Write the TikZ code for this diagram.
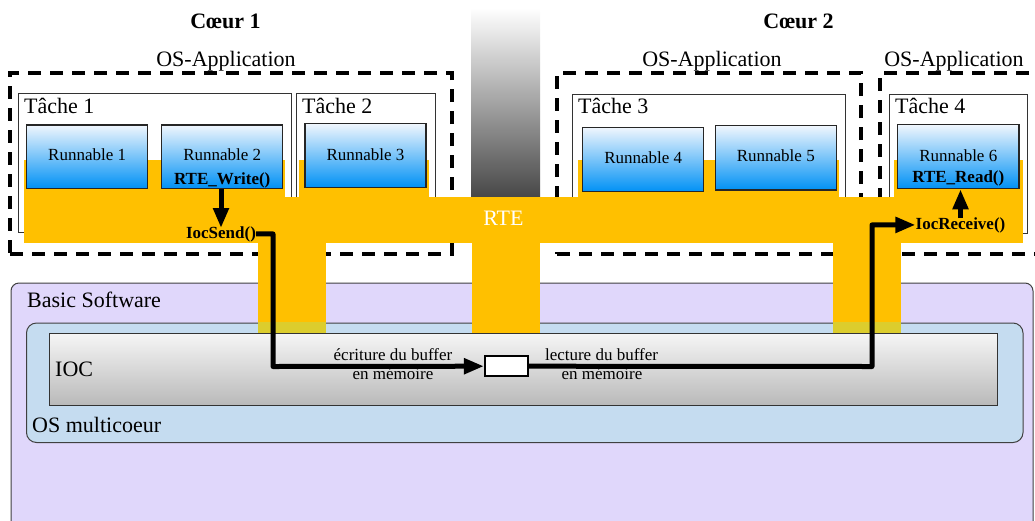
\documentclass[tikz,border=0pt]{standalone}
\usepackage{fontspec}
\setmainfont{Liberation Serif}
\usetikzlibrary{arrows.meta,fit}
\definecolor{orng}{RGB}{255,192,0}
\definecolor{stemolive}{RGB}{220,205,45}
\definecolor{lavender1}{RGB}{224,215,251}
\definecolor{osblue}{RGB}{197,220,240}
\definecolor{runtop}{RGB}{240,246,253}
\definecolor{runbot}{RGB}{0,145,245}
\definecolor{ioctop}{RGB}{246,246,246}
\definecolor{iocbot}{RGB}{185,185,185}
\newcommand\fbig{\fontsize{22}{26}\selectfont}
\newcommand\fsmall{\fontsize{17}{20}\selectfont}
\tikzset{
  dashbox/.style={draw=black, line width=3.5pt, dash pattern=on 13pt off 9pt, inner sep=0},
  tachebox/.style={draw=black!80, line width=1pt, fill=white, inner sep=0},
  runbox/.style={draw=black!85, line width=1.2pt, top color=runtop, bottom color=runbot, inner sep=0},
  bigtxt/.style={font=\fbig, inner sep=0},
  smalltxt/.style={font=\fsmall, inner sep=0},
  conn/.style={line width=5pt, line join=round},
  arrowline/.style={-{Triangle[length=20pt,width=15pt]}},
  orangefill/.style={fill=orng, draw=none, inner sep=0}
}
\begin{document}
\begin{tikzpicture}[x=1pt,y=-1pt]
\useasboundingbox (0,0) rectangle (1035,520);
\clip (0,0) rectangle (1035,520);

% Basic Software
\node[draw=black!75, line width=1pt, fill=lavender1, rounded corners=8pt, inner sep=0, fit={(11,283) (1033,540)}] (bsw) {};
\node[bigtxt, anchor=base west] (bswlbl) at (27,307) {Basic Software};

% gray pillar
\node[top color=white, bottom color=black!72, inner sep=0, fit={(471,8) (540,197)}] (pillar) {};

% titles
\node[bigtxt, font=\fbig\bfseries, anchor=base] (c1lbl) at (225.5,28) {Cœur 1};
\node[bigtxt, font=\fbig\bfseries, anchor=base] (c2lbl) at (798.5,28) {Cœur 2};
\node[bigtxt, anchor=base] (os1lbl) at (226,66) {OS-Application};
\node[bigtxt, anchor=base] (os2lbl) at (712,66) {OS-Application};
\node[bigtxt, anchor=base] (os3lbl) at (954,66) {OS-Application};

% dashed OS-Application boxes
\node[dashbox, fit={(10,73) (452,254)}] (osa1) {};
\node[dashbox, fit={(557,73) (861,254)}] (osa2) {};
\node[dashbox, fit={(880,73) (1062,254)}] (osa3) {};

% Tâche boxes
\node[tachebox, fit={(18.5,93.5) (291.5,232)}] (t1) {};
\node[tachebox, fit={(296,93.5) (435,232)}] (t2) {};
\node[tachebox, fit={(572,94.5) (845.5,232)}] (t3) {};
\node[tachebox, fit={(889,94.5) (1027.5,233)}] (t4) {};
\node[bigtxt, anchor=base west] (t1lbl) at (24,113) {Tâche 1};
\node[bigtxt, anchor=base west] (t2lbl) at (302,113) {Tâche 2};
\node[bigtxt, anchor=base west] (t3lbl) at (578,113) {Tâche 3};
\node[bigtxt, anchor=base west] (t4lbl) at (895,113) {Tâche 4};

% RTE orange shape
\fill[orng] (24,160) rectangle (285,198);
\fill[orng] (299,160) rectangle (429,198);
\fill[orng] (578,160) rectangle (839,198);
\fill[orng] (894,160) rectangle (1023,198);
\fill[orng] (258,242) rectangle (326,333);
\fill[orng] (472,242) rectangle (540,333);
\fill[orng] (833,242) rectangle (901,333);
\node[orangefill, fit={(24,197) (1023,243)}] (rte) {};
\node[bigtxt, text=white, anchor=base] (rtelbl) at (503.5,225) {RTE};

% Runnables
\node[runbox, fit={(26.7,125) (147.7,188.3)}] (r1) {};
\node[runbox, fit={(161.7,125) (282.7,188.3)}] (r2) {};
\node[runbox, fit={(305,123.7) (426,187.3)}] (r3) {};
\node[runbox, fit={(582.7,127.3) (703.7,191.7)}] (r4) {};
\node[runbox, fit={(715.3,125.7) (836.3,190)}] (r5) {};
\node[runbox, fit={(897.7,124.7) (1019,188.7)}] (r6) {};
\node[smalltxt, anchor=base] (r1lbl) at (87.2,160.7) {Runnable 1};
\node[smalltxt, anchor=base] (r2lbl) at (222.2,160.7) {Runnable 2};
\node[smalltxt, font=\fsmall\bfseries, anchor=base] (r2fn) at (222.2,184) {RTE\_Write()};
\node[smalltxt, anchor=base] (r3lbl) at (365.5,160) {Runnable 3};
\node[smalltxt, anchor=base] (r4lbl) at (643.2,163.3) {Runnable 4};
\node[smalltxt, anchor=base] (r5lbl) at (775.8,161.7) {Runnable 5};
\node[smalltxt, anchor=base] (r6lbl) at (958.3,161) {Runnable 6};
\node[smalltxt, font=\fsmall\bfseries, anchor=base] (r6fn) at (958.3,182) {RTE\_Read()};

% OS multicoeur
\node[draw=black!75, line width=1pt, fill=osblue, rounded corners=10pt, inner sep=0, fit={(26.5,323) (1023,442.5)}] (osm) {};
\fill[stemolive] (258,322.3) rectangle (326,333);
\fill[stemolive] (833,322.3) rectangle (901,333);
\fill[orng] (472,322.3) rectangle (540,333);
\node[bigtxt, anchor=base west] (osmlbl) at (32,432) {OS multicoeur};

% IOC
\node[draw=black!80, line width=1pt, top color=ioctop, bottom color=iocbot, inner sep=0, fit={(49.5,333) (997,405.5)}] (ioc) {};
\node[bigtxt, anchor=base west] (ioclbl) at (55,376) {IOC};

% buffer
\node[draw=black, line width=2.5pt, fill=white, inner sep=0, fit={(485.2,356.2) (527.8,376.2)}] (buf) {};
\node[smalltxt, anchor=base] (wr1) at (393,360) {écriture du buffer};
\node[smalltxt, anchor=base] (wr2) at (393,379) {en mémoire};
\node[smalltxt, anchor=base] (rd1) at (601.5,360) {lecture du buffer};
\node[smalltxt, anchor=base] (rd2) at (602,379) {en mémoire};

% IOC calls
\node[smalltxt, font=\fsmall\bfseries, anchor=base] (send) at (221,238) {IocSend()};
\node[smalltxt, font=\fsmall\bfseries, anchor=base] (recv) at (960.5,229) {IocReceive()};

% connectors
\coordinate (c1) at (273,366.5);
\coordinate (c2) at (872,366.5);
\draw[conn, arrowline] (send.north |- r2.south) -- ([yshift=-2pt]send.north);
\draw[conn, arrowline] ([yshift=-1pt]recv.north) -- (recv.north |- r6.south);
\draw[conn, arrowline] (send.east) -| (c1) -- (buf.west);
\draw[conn, arrowline] (buf.east) -- (c2) |- (recv.west);
\end{tikzpicture}
\end{document}
